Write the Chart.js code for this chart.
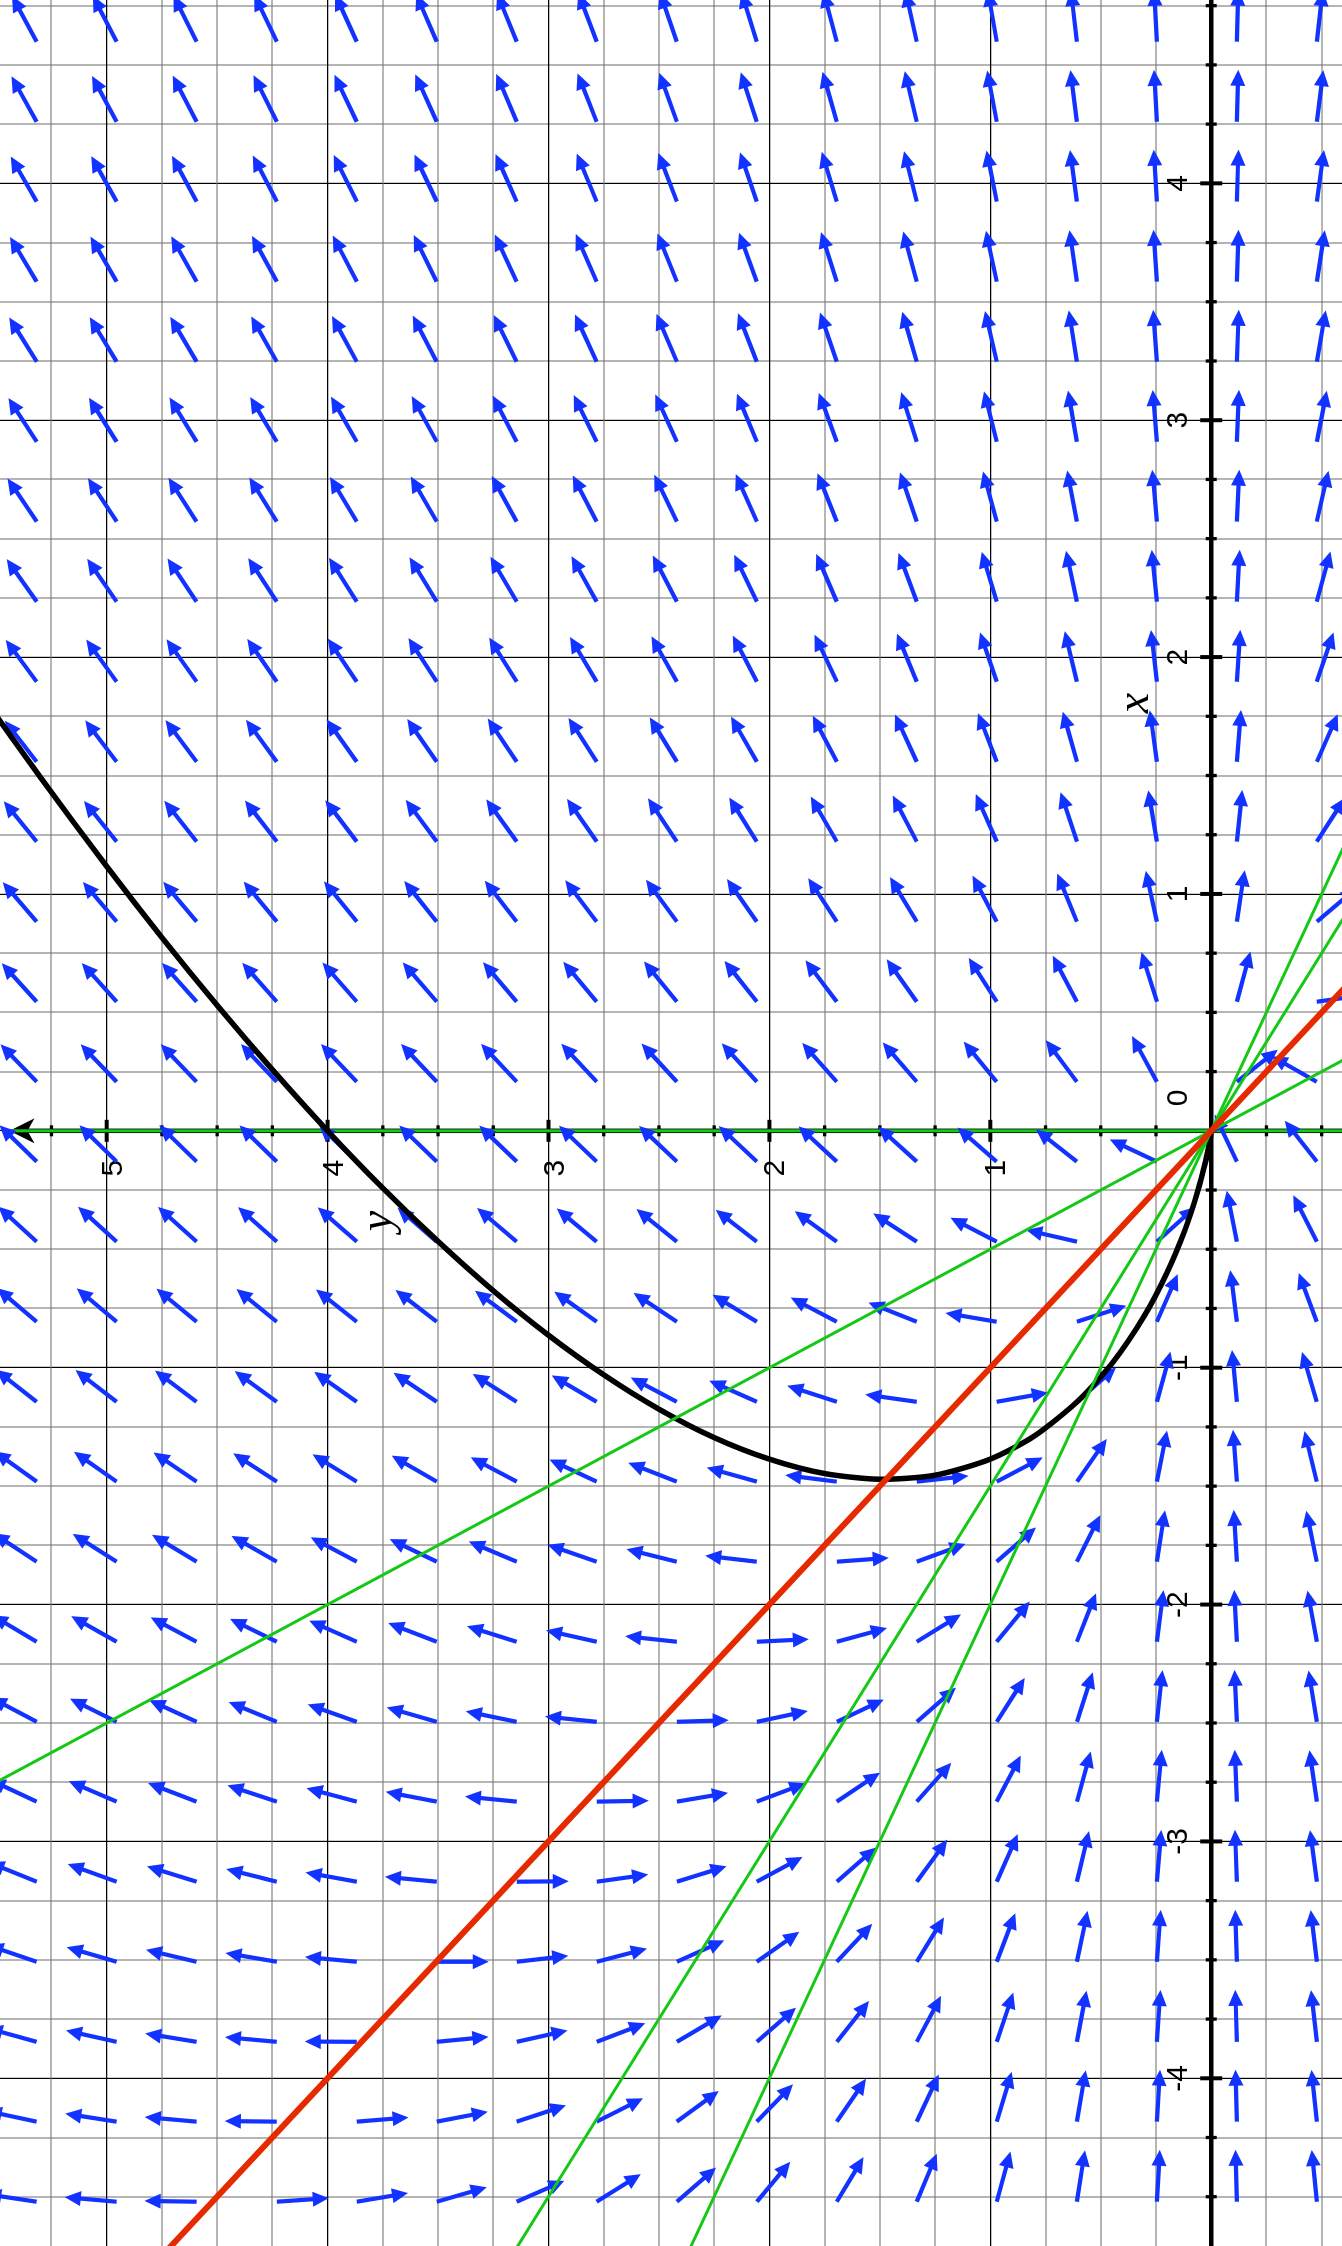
<!DOCTYPE html>
<html>
<head>
<meta charset="utf-8">
<script src="https://cdn.jsdelivr.net/npm/chart.js@4.4.1/dist/chart.umd.min.js"></script>
<style>
  html, body { margin: 0; padding: 0; background: #fff; overflow: hidden; }
  /* the figure is drawn the usual way and then turned a quarter turn, like the original */
  #wrap { position: absolute; left: 0; top: 0; width: 2246px; height: 1342px;
          transform-origin: 0 0; transform: translate(0, 2246px) rotate(-90deg); }
</style>
</head>
<body>
<div id="wrap"><canvas id="field" width="2246" height="1342"></canvas></div>
<script>
// slope field of dy/dx = y / (x + y) with one solution and some isoclines

// visible window
const X_MIN = -4.708, X_MAX = 4.774;
const Y_MIN = -0.592, Y_MAX = 5.483;

// arrow tails
const arrowX = [4.598, 4.260, 3.923, 3.585, 3.247, 2.909, 2.572, 2.234, 1.896, 1.558,
                1.221, 0.883, 0.545, 0.207, -0.130, -0.468, -0.806, -1.144, -1.481, -1.819,
                -2.157, -2.495, -2.832, -3.170, -3.508, -3.846, -4.183, -4.521];
const arrowY = [5.317, 4.955, 4.593, 4.230, 3.868, 3.506, 3.144, 2.782, 2.419, 2.057,
                1.695, 1.333, 0.971, 0.608, 0.246, -0.116, -0.478];

// black solution curve (through the origin and (0, 4))
const curveY = [5.55, 5.3, 5.0, 4.75, 4.5, 4.25, 4.0, 3.75, 3.5, 3.25, 3.0, 2.75, 2.5, 2.25,
                2.0, 1.75, 1.5, 1.25, 1.0, 0.8, 0.6, 0.45, 0.3, 0.2, 0.12, 0.06, 0.025, 0.008, 0];
const curveX = [1.818, 1.492, 1.116, 0.816, 0.530, 0.258, 0, -0.242, -0.467, -0.675, -0.863, -1.030, -1.175, -1.295,
                -1.386, -1.447, -1.471, -1.454, -1.386, -1.288, -1.138, -0.983, -0.777, -0.599, -0.421, -0.252, -0.127, -0.050, 0];

// straight lines through the origin (end points)
const redX = [-5.5, 1.0], redY = [5.5, -1.0];          // y = -x
const iso2X = [-3.0, 0.5], iso2Y = [6.0, -1.0];        // y = -2x
const isoM2X = [-5.5, 1.5], isoM2Y = [3.667, -1.0];    // y = -2x/3
const isoM1X = [-5.5, 2.0], isoM1Y = [2.75, -1.0];     // y = -x/2
const AXIS_TIP_Y = 5.44;
const iso1X = [0, 0], iso1Y = [-1.0, AXIS_TIP_Y];      // x = 0

// tick labels
const xTickLabels = [-4, -3, -2, -1, 0, 1, 2, 3, 4];
const yTickLabels = [1, 2, 3, 4, 5];

// axis names
const xNameAt = {x: 1.806, y: 0.285};
const yNameAt = {x: -0.381, y: 3.714};

const BLUE = '#1232ff';
const GREEN = '#16c816';
const RED = '#e62a00';

function pts(xs, ys) {
  return xs.map((v, i) => ({x: v, y: ys[i]}));
}

const tails = [];
arrowX.forEach(x => arrowY.forEach(y => tails.push({x: x, y: y})));

function isWhole(v) { return Math.abs(v - Math.round(v)) < 1e-9; }

// slope at a point of the field
function fieldSlope(x, y) { return y / (x + y); }

const axesPlugin = {
  id: 'axesThroughOrigin',
  beforeDatasetsDraw(chart) {
    const {ctx, chartArea} = chart;
    const xs = chart.scales.x, ys = chart.scales.y;
    const ox = xs.getPixelForValue(0);
    const oy = ys.getPixelForValue(0);
    const tipV = ys.getPixelForValue(AXIS_TIP_Y);
    ctx.save();
    ctx.strokeStyle = '#000';
    ctx.fillStyle = '#000';
    ctx.lineWidth = 4.5;
    ctx.beginPath();
    ctx.moveTo(chartArea.left, oy);
    ctx.lineTo(chartArea.right, oy);
    ctx.moveTo(ox, chartArea.bottom);
    ctx.lineTo(ox, tipV + 15);
    ctx.stroke();

    // tick marks
    xs.ticks.forEach(t => {
      if (t.value === 0) return;
      const p = xs.getPixelForValue(t.value);
      const major = isWhole(t.value);
      const h = major ? 11 : 5.5;
      ctx.lineWidth = major ? 4 : 3.3;
      ctx.beginPath();
      ctx.moveTo(p, oy - h);
      ctx.lineTo(p, oy + h);
      ctx.stroke();
    });
    ys.ticks.forEach(t => {
      if (t.value === 0) return;
      const p = ys.getPixelForValue(t.value);
      const major = isWhole(t.value);
      const h = major ? 11 : 5.5;
      ctx.lineWidth = major ? 4 : 3.3;
      ctx.beginPath();
      ctx.moveTo(ox - h, p);
      ctx.lineTo(ox + h, p);
      ctx.stroke();
    });

    // arrow head on the y axis
    ctx.beginPath();
    ctx.moveTo(ox, tipV);
    ctx.lineTo(ox + 12.5, tipV + 25);
    ctx.lineTo(ox, tipV + 18);
    ctx.lineTo(ox - 12.5, tipV + 25);
    ctx.closePath();
    ctx.fill();

    // labels
    ctx.font = '30px "Liberation Sans", Arial, sans-serif';
    ctx.textAlign = 'center';
    ctx.textBaseline = 'alphabetic';
    xTickLabels.forEach(v => {
      let p = xs.getPixelForValue(v);
      if (v === 0) p += 33;
      ctx.fillText(String(v), p, oy - 24);
    });
    ctx.textAlign = 'right';
    yTickLabels.forEach(v => {
      ctx.fillText(String(v), ox - 29, ys.getPixelForValue(v) + 15);
    });

    ctx.font = 'italic 46px "Liberation Serif", "Times New Roman", serif';
    ctx.textAlign = 'center';
    ctx.fillText('x', xs.getPixelForValue(xNameAt.x), ys.getPixelForValue(xNameAt.y));
    ctx.fillText('y', xs.getPixelForValue(yNameAt.x), ys.getPixelForValue(yNameAt.y));
    ctx.restore();
  },
  // the field arrows go under the solution curve
  beforeDatasetDraw(chart, args) {
    if (chart.data.datasets[args.index].label !== 'solution') return;
    const ctx = chart.ctx;
    const fieldIndex = chart.data.datasets.findIndex(d => d.label === 'field');
    const meta = chart.getDatasetMeta(fieldIndex);
    const data = chart.data.datasets[fieldIndex].data;
    const L = 52, HL = 16, HW = 7.5;
    ctx.save();
    ctx.strokeStyle = BLUE;
    ctx.fillStyle = BLUE;
    ctx.lineWidth = 4.2;
    ctx.lineCap = 'butt';
    meta.data.forEach((el, i) => {
      const s = fieldSlope(data[i].x, data[i].y);
      const n = Math.hypot(1, s);
      const du = 1 / n, dv = -s / n;
      const tu = el.x + du * L, tv = el.y + dv * L;
      const bu = tu - du * HL, bv = tv - dv * HL;
      ctx.beginPath();
      ctx.moveTo(el.x, el.y);
      ctx.lineTo(bu + du * 2, bv + dv * 2);
      ctx.stroke();
      ctx.beginPath();
      ctx.moveTo(tu, tv);
      ctx.lineTo(bu - dv * HW, bv + du * HW);
      ctx.lineTo(bu + dv * HW, bv - du * HW);
      ctx.closePath();
      ctx.fill();
    });
    ctx.restore();
  }
};

const gridColor = (c) => (c.tick && isWhole(c.tick.value)) ? '#000' : 'rgba(120,120,120,0.55)';
const gridWidth = (c) => (c.tick && isWhole(c.tick.value)) ? 1.2 : 2;

const lineSet = (label, data, color, width, order) => ({
  label: label, data: data, showLine: true, borderColor: color, borderWidth: width,
  pointRadius: 0, pointHoverRadius: 0, fill: false, order: order
});

new Chart(document.getElementById('field'), {
  type: 'scatter',
  data: {
    datasets: [
      lineSet('y = -x', pts(redX, redY), RED, 6, 0),
      lineSet('slope 2', pts(iso2X, iso2Y), GREEN, 3, 1),
      lineSet('slope -2', pts(isoM2X, isoM2Y), GREEN, 3, 1),
      lineSet('slope -1', pts(isoM1X, isoM1Y), GREEN, 3, 1),
      Object.assign(lineSet('solution', pts(curveX, curveY), '#000', 5.5, 2), {tension: 0.25}),
      lineSet('slope 1', pts(iso1X, iso1Y), GREEN, 3, 3),
      {label: 'field', data: tails, pointRadius: 0, pointHoverRadius: 0, order: 4}
    ]
  },
  options: {
    responsive: false,
    animation: false,
    events: [],
    layout: {padding: 0},
    plugins: {legend: {display: false}, tooltip: {enabled: false}},
    scales: {
      x: {
        type: 'linear', min: X_MIN, max: X_MAX,
        ticks: {stepSize: 0.25, display: false, includeBounds: false, autoSkip: false},
        grid: {color: gridColor, lineWidth: gridWidth, drawTicks: false},
        border: {display: false}
      },
      y: {
        type: 'linear', min: Y_MIN, max: Y_MAX,
        ticks: {stepSize: 0.25, display: false, includeBounds: false, autoSkip: false},
        grid: {color: gridColor, lineWidth: gridWidth, drawTicks: false},
        border: {display: false}
      }
    }
  },
  plugins: [axesPlugin]
});
</script>
</body>
</html>
